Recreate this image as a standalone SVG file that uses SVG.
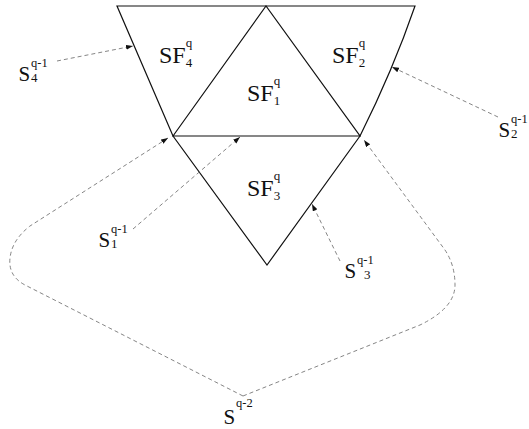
<svg xmlns="http://www.w3.org/2000/svg" width="529" height="429" viewBox="0 0 529 429">
<style>
.edge{fill:none;stroke:#111;stroke-width:1.2;stroke-linejoin:miter}
.dash{fill:none;stroke:#777;stroke-width:0.9;stroke-dasharray:4,3}
.big{font-family:"Liberation Serif","Times New Roman",serif;font-size:24px;fill:#111}
.lab{font-family:"Liberation Serif","Times New Roman",serif;font-size:21px;fill:#111}
.scr{font-family:"Liberation Serif","Times New Roman",serif;font-size:13px;fill:#111}
.sup{font-family:"Liberation Serif","Times New Roman",serif;font-size:12.5px;fill:#111}
</style>
<defs>
<marker id="ah" markerUnits="userSpaceOnUse" markerWidth="8" markerHeight="6" refX="7" refY="2.5" orient="auto">
<path d="M0,0 L7,2.5 L0,5 z" fill="#111"/>
</marker>
</defs>
<g id="triangles">
<path class="edge" d="M117,6 L415,6 Q393,70 360,136 L267,265 L173,136 Z"/>
<path class="edge" d="M173,136 L266,6 L360,136 Z"/>
</g>
<g id="SF4"><text class="big" x="159" y="63">SF<tspan class="scr" dy="4">4</tspan><tspan class="scr" dx="-6.5" dy="-20">q</tspan></text></g>
<g id="SF1"><text class="big" x="247" y="101">SF<tspan class="scr" dy="4">1</tspan><tspan class="scr" dx="-6.5" dy="-20">q</tspan></text></g>
<g id="SF2"><text class="big" x="332" y="63">SF<tspan class="scr" dy="4">2</tspan><tspan class="scr" dx="-6.5" dy="-20">q</tspan></text></g>
<g id="SF3"><text class="big" x="247" y="196">SF<tspan class="scr" dy="4">3</tspan><tspan class="scr" dx="-6.5" dy="-20">q</tspan></text></g>
<g id="S4"><text class="lab" x="18.5" y="81">S</text><text class="sup" x="31" y="67">q-1</text><text class="scr" x="31" y="82">4</text></g>
<g id="S2"><text class="lab" x="498.5" y="137">S</text><text class="sup" x="511" y="123">q-1</text><text class="scr" x="511" y="138">2</text></g>
<g id="S1"><text class="lab" x="98.5" y="247">S</text><text class="sup" x="111" y="233">q-1</text><text class="scr" x="111" y="248">1</text></g>
<g id="S3"><text class="lab" x="344.5" y="278">S</text><text class="sup" x="357" y="264">q-1</text><text class="scr" x="364" y="279">3</text></g>
<g id="Sq2"><text class="lab" x="223.5" y="424">S</text><text class="sup" x="236" y="407">q-2</text></g>
<g id="connectors">
<path class="dash" marker-end="url(#ah)" d="M57,61 L133,46"/>
<path class="dash" marker-end="url(#ah)" d="M498,117 L392,67"/>
<path class="dash" marker-end="url(#ah)" d="M133,229 L240,137"/>
<path class="dash" marker-end="url(#ah)" d="M340,261 L312,204"/>
<path class="dash" marker-end="url(#ah)" d="M243,396 L25,285 Q8,276 10,258 Q12,240 30,226 L168,138"/>
<path class="dash" marker-end="url(#ah)" d="M243,396 L420,325 Q455,308 455,285 Q455,265 445,250 L364,140"/>
</g>
</svg>
